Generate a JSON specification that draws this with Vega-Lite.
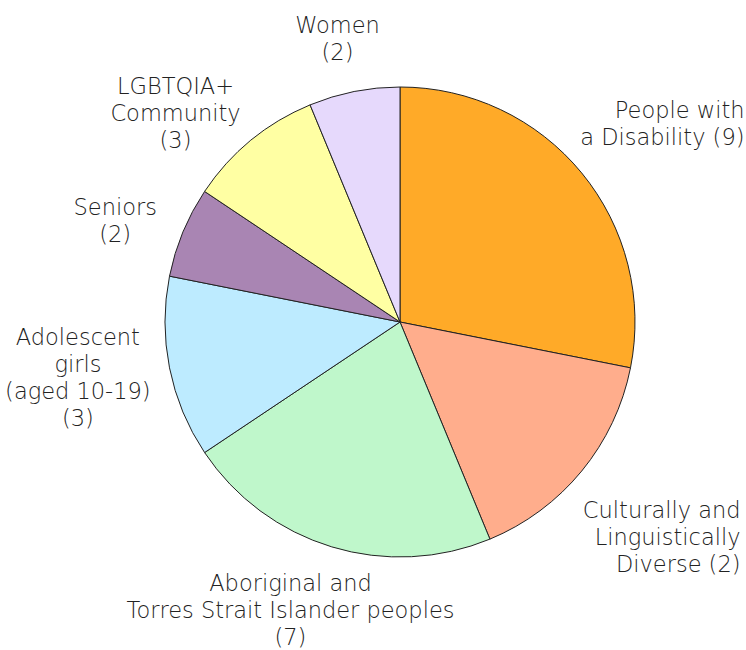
{
  "$schema": "https://vega.github.io/schema/vega-lite/v6.json",
  "autosize": {"type": "none"},
  "padding": {"left": 54, "top": 0, "right": 0, "bottom": 6},
  "width": 692,
  "height": 644,
  "background": "white",
  "view": {"stroke": null},
  "data": {
    "values": [
      {"order": 1, "group": "People with a Disability", "label": "People with\na Disability (9)", "value": 9},
      {"order": 2, "group": "Culturally and Linguistically Diverse", "label": "Culturally and\nLinguistically\nDiverse (2)", "value": 5},
      {"order": 3, "group": "Aboriginal and Torres Strait Islander peoples", "label": "Aboriginal and\nTorres Strait Islander peoples\n(7)", "value": 7},
      {"order": 4, "group": "Adolescent girls (aged 10-19)", "label": "Adolescent\ngirls\n(aged 10-19)\n(3)", "value": 4},
      {"order": 5, "group": "Seniors", "label": "Seniors\n(2)", "value": 2},
      {"order": 6, "group": "LGBTQIA+ Community", "label": "LGBTQIA+\nCommunity\n(3)", "value": 3},
      {"order": 7, "group": "Women", "label": "Women\n(2)", "value": 2}
    ]
  },
  "encoding": {
    "theta": {"field": "value", "type": "quantitative", "stack": true},
    "order": {"field": "order", "type": "quantitative"}
  },
  "layer": [
    {
      "mark": {"type": "arc", "outerRadius": 235, "stroke": "#222222", "strokeWidth": 1},
      "encoding": {
        "color": {
          "field": "group",
          "type": "nominal",
          "legend": null,
          "scale": {
            "domain": ["People with a Disability", "Culturally and Linguistically Diverse", "Aboriginal and Torres Strait Islander peoples", "Adolescent girls (aged 10-19)", "Seniors", "LGBTQIA+ Community", "Women"],
            "range": ["#FFAA28", "#FFAD8C", "#BFF7CB", "#BDEBFF", "#A985B3", "#FFFFA3", "#E6D9FC"]
          }
        }
      }
    },
    {
      "mark": {"type": "text", "radius": 315, "dx": 101, "dy": -11, "align": "right", "baseline": "middle", "lineBreak": "\n", "lineHeight": 27, "fontSize": 22.5, "font": "DejaVu Sans", "fontWeight": 300, "color": "#222222"},
      "encoding": {"text": {"condition": {"test": "datum.order == 1", "field": "label"}, "value": ""}}
    },
    {
      "mark": {"type": "text", "radius": 315, "dx": 97, "dy": -11, "align": "right", "baseline": "middle", "lineBreak": "\n", "lineHeight": 27, "fontSize": 22.5, "font": "DejaVu Sans", "fontWeight": 300, "color": "#222222"},
      "encoding": {"text": {"condition": {"test": "datum.order == 2", "field": "label"}, "value": ""}}
    },
    {
      "mark": {"type": "text", "radius": 305, "dx": -3, "dy": 3, "align": "center", "baseline": "middle", "lineBreak": "\n", "lineHeight": 27, "fontSize": 22.5, "font": "DejaVu Sans", "fontWeight": 300, "color": "#222222"},
      "encoding": {"text": {"condition": {"test": "datum.order == 5 || datum.order == 7", "field": "label"}, "value": ""}}
    },
    {
      "mark": {"type": "text", "radius": 305, "dx": -31, "dy": 1, "align": "center", "baseline": "middle", "lineBreak": "\n", "lineHeight": 27, "fontSize": 22.5, "font": "DejaVu Sans", "fontWeight": 300, "color": "#222222"},
      "encoding": {"text": {"condition": {"test": "datum.order == 6", "field": "label"}, "value": ""}}
    },
    {
      "mark": {"type": "text", "radius": 305, "dx": -21, "dy": -30, "align": "center", "baseline": "middle", "lineBreak": "\n", "lineHeight": 27, "fontSize": 22.5, "font": "DejaVu Sans", "fontWeight": 300, "color": "#222222"},
      "encoding": {"text": {"condition": {"test": "datum.order == 3", "field": "label"}, "value": ""}}
    },
    {
      "mark": {"type": "text", "radius": 305, "dx": -23, "dy": -43.5, "align": "center", "baseline": "middle", "lineBreak": "\n", "lineHeight": 27, "fontSize": 22.5, "font": "DejaVu Sans", "fontWeight": 300, "color": "#222222"},
      "encoding": {"text": {"condition": {"test": "datum.order == 4", "field": "label"}, "value": ""}}
    }
  ]
}
